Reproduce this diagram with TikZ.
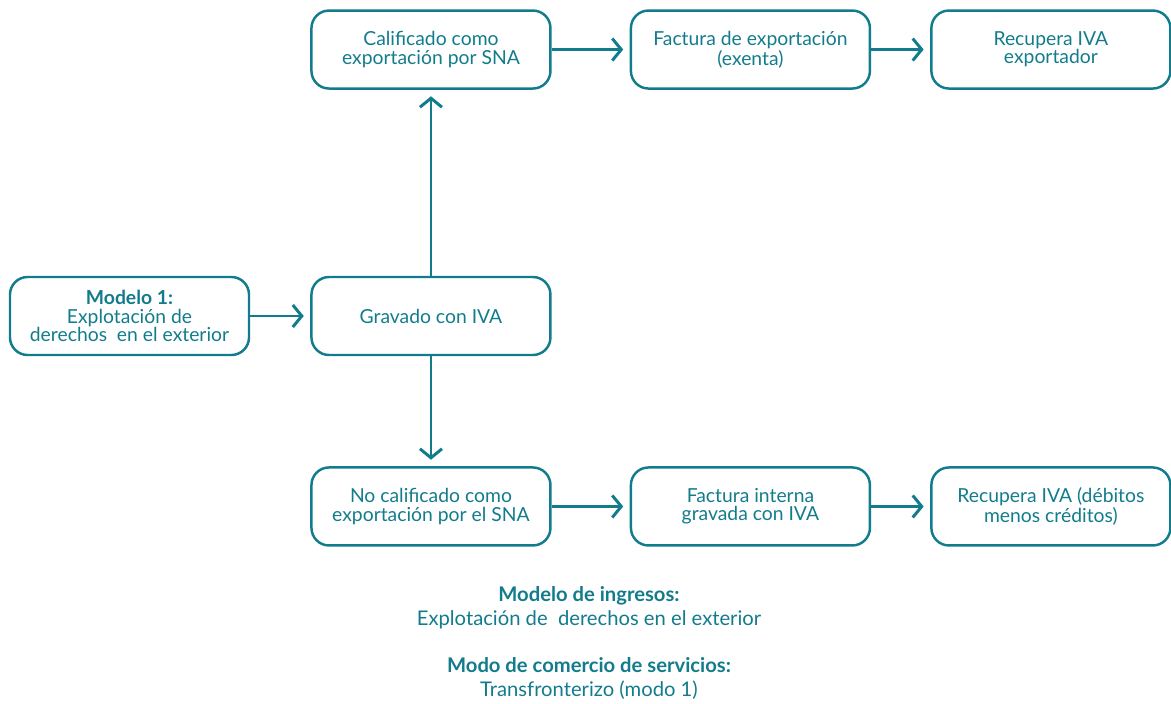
\documentclass[tikz,border=0pt]{standalone}
\usepackage{fontspec}
\setmainfont{Lato}
\definecolor{azul}{RGB}{18,124,140}
\tikzstyle{every node}+=[font=\fontsize{11}{10.4}\selectfont,text=azul]
\tikzstyle{caja}=[draw=azul,line width=1.4pt,rounded corners=10pt,minimum width=4.78cm,minimum height=1.56cm,align=center,inner sep=0pt]
\tikzstyle{flecha}=[draw=azul,line width=1.5pt,-{Straight Barb[length=1.8mm,width=4.4mm,line width=1.7pt]},shorten >=0.13cm]
\usetikzlibrary{positioning,arrows.meta}

\begin{document}
\begin{tikzpicture}

\useasboundingbox (0,0) rectangle (23.42,-14.06);

\node[caja] (m1) at (2.59,-6.32) {\textbf{Modelo 1:}\\Explotación de\\derechos\ \ en el exterior};
\node[caja, right=1.20cm of m1] (grav) {Gravado con IVA};

\node[caja, above=3.72cm of grav] (calif) {Calificado como\\exportación por SNA};
\node[caja, right=1.56cm of calif] (factexp) {Factura de exportación\\(exenta)};
\node[caja, right=1.18cm of factexp] (recexp) {Recupera IVA\\exportador};

\node[caja, below=2.20cm of grav] (nocalif) {No calificado como\\exportación por el SNA};
\node[caja, right=1.56cm of nocalif] (factint) {Factura interna\\gravada con IVA};
\node[caja, right=1.18cm of factint] (recint) {Recupera IVA (débitos\\menos créditos)};

\node[align=center, font=\fontsize{11.5}{13.6}\selectfont] (nota) at (11.78,-12.86)
  {\textbf{Modelo de ingresos:}\\Explotación de\ \ derechos en el exterior\\[13.6pt]
   \textbf{Modo de comercio de servicios:}\\Transfronterizo (modo 1)};

\draw[flecha] (m1) -- (grav);
\draw[flecha] (grav) -- (calif);
\draw[flecha] (grav) -- (nocalif);
\draw[flecha] (calif) -- (factexp);
\draw[flecha] (factexp) -- (recexp);
\draw[flecha] (nocalif) -- (factint);
\draw[flecha] (factint) -- (recint);
\end{tikzpicture}
\end{document}
